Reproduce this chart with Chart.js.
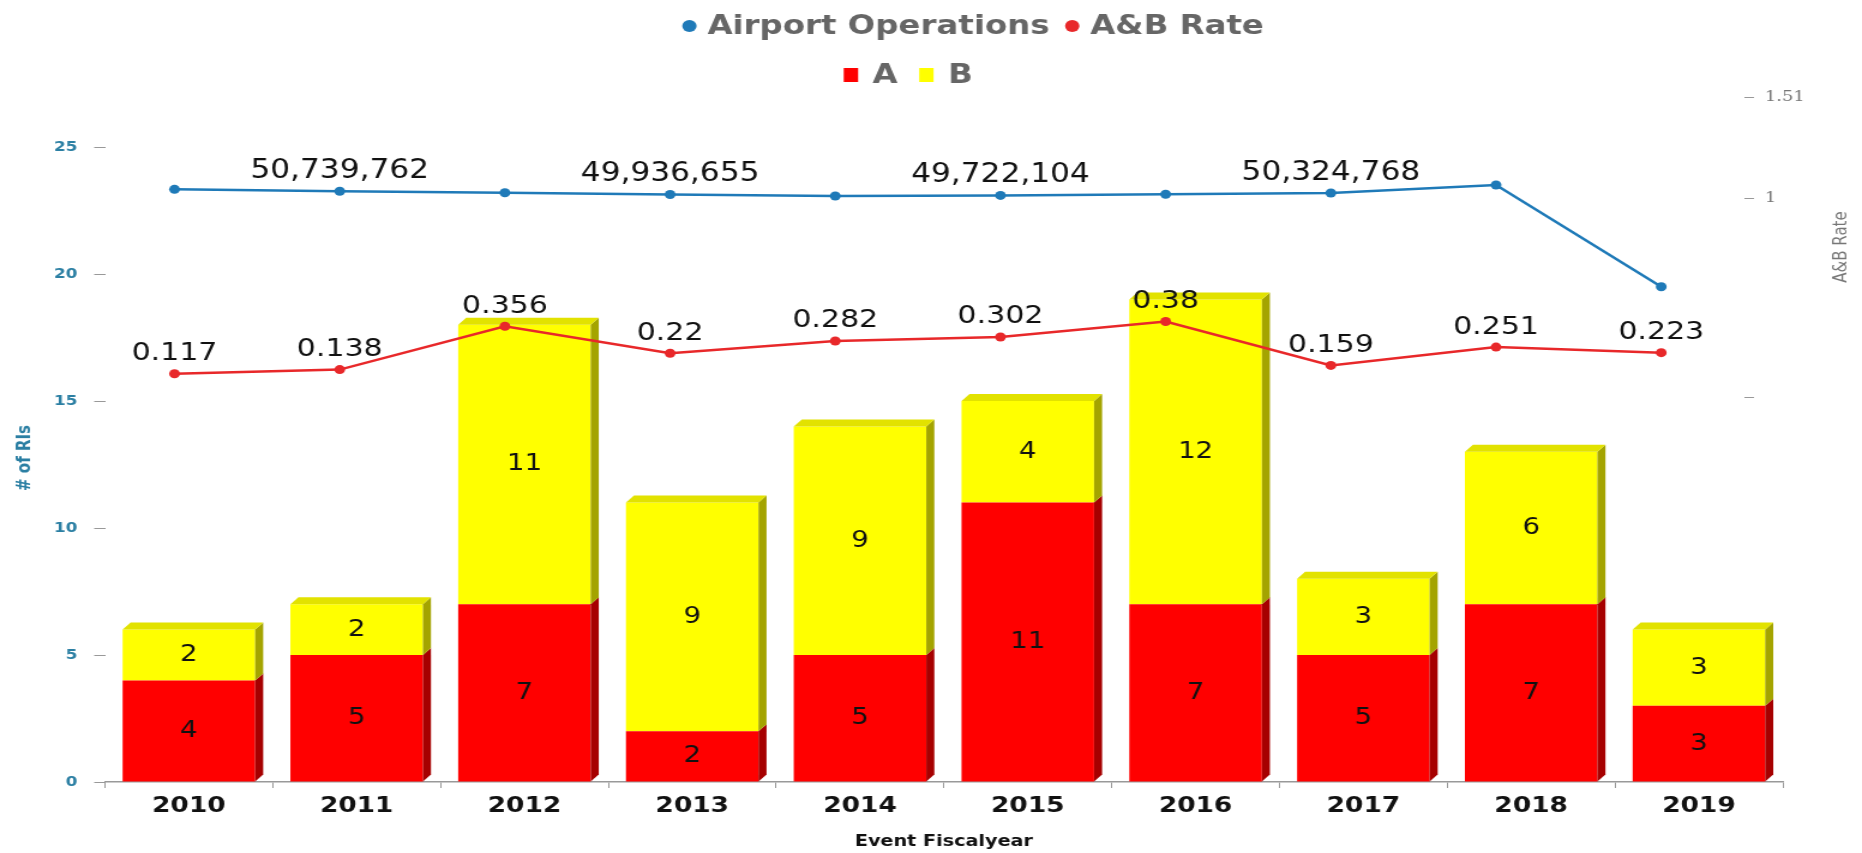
<!DOCTYPE html>
<html>
<head>
<meta charset="utf-8">
<title>RIs by Event Fiscal Year</title>
<script src="https://cdn.jsdelivr.net/npm/chart.js@4.4.1/dist/chart.umd.min.js"></script>
<style>
  html, body { margin: 0; padding: 0; background: #fff; overflow: hidden; }
  /* the source picture is a horizontally stretched screenshot, so stretch the canvas the same way */
  #wrap { width: 1552px; height: 853px; transform: scaleX(1.19974); transform-origin: 0 0; }
</style>
</head>
<body>
<div id="wrap"><canvas id="chart" width="1552" height="853"></canvas></div>
<script>
const years = ['2010', '2011', '2012', '2013', '2014', '2015', '2016', '2017', '2018', '2019'];
const countA = [4, 5, 7, 2, 5, 11, 7, 5, 7, 3];
const countB = [2, 2, 11, 9, 9, 4, 12, 3, 6, 3];
const abRate = [0.117, 0.138, 0.356, 0.22, 0.282, 0.302, 0.38, 0.159, 0.251, 0.223];
const airportOps = [51230000, 50739762, 50390000, 49936655, 49580000, 49722104, 50000000, 50324768, 52290000, 27200000];
const labeledOps = [1, 3, 5, 7];   // only these points carry a value label
const countTicks = [0, 5, 10, 15, 20, 25];
const rateTicks = [0, 1, 1.51];

const BLUE = '#1f7ab8';
const RED = '#e8282a';
const BAR_RED = '#ff0000';
const BAR_YELLOW = '#ffff00';
const TEAL = '#2b7fa3';
const FONT = '"DejaVu Sans", Verdana, sans-serif';

// depth of the fake 3D faces on the bars
const dx = 6.7, dy = 7;

/**
 * Draws 3D faces, value labels, the two-row legend, the right axis and the axis titles
 */
const extras = {
    id: 'extras',
    afterDatasetDraw(chart, args) {
        // A is drawn after B, so both bar sets are on the canvas now
        if (args.index !== 2) return;
        const ctx = chart.ctx;
        const barsA = chart.getDatasetMeta(2).data;
        const barsB = chart.getDatasetMeta(3).data;
        ctx.save();
        [[barsA, '#a60000'], [barsB, '#a4a400']].forEach(([bars, side]) => {
            bars.forEach(bar => {
                const p = bar.getProps(['x', 'y', 'base', 'width'], true);
                if (p.base === p.y) return;
                const r = p.x + p.width / 2;
                ctx.fillStyle = side;
                ctx.beginPath();
                ctx.moveTo(r, p.y);
                ctx.lineTo(r + dx, p.y - dy);
                ctx.lineTo(r + dx, p.base - dy);
                ctx.lineTo(r, p.base);
                ctx.closePath();
                ctx.fill();
            });
        });
        years.forEach((_, i) => {
            const bar = countB[i] > 0 ? barsB[i] : barsA[i];
            const p = bar.getProps(['x', 'y', 'width'], true);
            const l = p.x - p.width / 2, r = p.x + p.width / 2;
            ctx.fillStyle = countB[i] > 0 ? '#e2e200' : '#d00000';
            ctx.beginPath();
            ctx.moveTo(l, p.y);
            ctx.lineTo(l + dx, p.y - dy);
            ctx.lineTo(r + dx, p.y - dy);
            ctx.lineTo(r, p.y);
            ctx.closePath();
            ctx.fill();
        });
        ctx.restore();
    },
    afterDatasetsDraw(chart) {
        const ctx = chart.ctx;
        ctx.save();
        ctx.textAlign = 'center';
        ctx.textBaseline = 'middle';
        ctx.fillStyle = '#111';

        // bar segment labels
        ctx.font = `23px ${FONT}`;
        [[2, countA], [3, countB]].forEach(([idx, values]) => {
            chart.getDatasetMeta(idx).data.forEach((bar, i) => {
                if (!values[i]) return;
                const p = bar.getProps(['x', 'y', 'base'], true);
                ctx.fillText(String(values[i]), p.x, (p.y + p.base) / 2);
            });
        });

        // line point labels
        ctx.font = `26px ${FONT}`;
        chart.getDatasetMeta(0).data.forEach((pt, i) => {
            if (!labeledOps.includes(i)) return;
            ctx.fillText(airportOps[i].toLocaleString('en-US'), pt.x, pt.y - 20);
        });
        ctx.font = `25px ${FONT}`;
        chart.getDatasetMeta(1).data.forEach((pt, i) => {
            ctx.fillText(String(abRate[i]), pt.x, pt.y - 20);
        });
        ctx.restore();
    },
    afterDraw(chart) {
        const ctx = chart.ctx;
        const ds = chart.data.datasets;
        ctx.save();

        // legend, lines on the first row and bars on the second
        const rows = [
            { y: 26, cx: 811, items: [0, 1], markGap: 9, itemGap: 13 },
            { y: 75, cx: 757, items: [2, 3], markGap: 12, itemGap: 18 }
        ];
        ctx.font = `bold 27px ${FONT}`;
        ctx.textBaseline = 'middle';
        ctx.textAlign = 'left';
        rows.forEach(row => {
            const mark = 12;
            const widths = row.items.map(i => ctx.measureText(ds[i].label).width);
            const total = widths.reduce((s, w) => s + mark + row.markGap + w, 0) + row.itemGap * (row.items.length - 1);
            let x = row.cx - total / 2;
            row.items.forEach((i, k) => {
                const d = ds[i];
                ctx.fillStyle = d.type === 'line' ? d.borderColor : d.backgroundColor;
                if (d.type === 'line') {
                    ctx.beginPath();
                    ctx.arc(x + mark / 2, row.y, 6, 0, Math.PI * 2);
                    ctx.fill();
                } else {
                    ctx.fillRect(x, row.y - 7, mark, 14);
                }
                x += mark + row.markGap;
                ctx.fillStyle = '#666';
                ctx.fillText(d.label, x, row.y + 1);
                x += widths[k] + row.itemGap;
            });
        });

        // right axis: short marks set in from the plot edge, labels left aligned after them
        const y1 = chart.scales.y1;
        const right = chart.chartArea.right;
        ctx.strokeStyle = '#999';
        ctx.lineWidth = 1;
        ctx.fillStyle = '#777';
        ctx.font = '15px "DejaVu Serif", serif';
        rateTicks.forEach(v => {
            const y = Math.round(y1.getPixelForValue(v)) + 0.5;
            ctx.beginPath();
            ctx.moveTo(right - 32, y);
            ctx.lineTo(right - 24, y);
            ctx.stroke();
            if (v !== 0) ctx.fillText(String(v), right - 15, y);
        });

        // rotated axis titles, both read bottom to top
        ctx.textAlign = 'center';
        ctx.save();
        ctx.translate(21.5, 458);
        ctx.rotate(-Math.PI / 2);
        ctx.font = `bold 15px ${FONT}`;
        ctx.fillStyle = TEAL;
        ctx.fillText('# of RIs', 0, 0);
        ctx.restore();

        ctx.save();
        ctx.translate(1535, 247);
        ctx.rotate(-Math.PI / 2);
        ctx.font = `15px ${FONT}`;
        ctx.fillStyle = '#777';
        ctx.fillText('A&B Rate', 0, 0);
        ctx.restore();

        ctx.restore();
    }
};

const ctx = document.getElementById('chart').getContext('2d');

new Chart(ctx, {
    type: 'bar',
    data: {
        labels: years,
        datasets: [
            {
                type: 'line',
                label: 'Airport Operations',
                data: airportOps.map((v, i) => ({ x: i, y: v })),
                xAxisID: 'x2',
                yAxisID: 'y3',
                borderColor: BLUE,
                backgroundColor: BLUE,
                borderWidth: 2.5,
                pointRadius: 4.5,
                pointBorderWidth: 0,
                tension: 0
            },
            {
                type: 'line',
                label: 'A&B Rate',
                data: abRate.map((v, i) => ({ x: i, y: v })),
                xAxisID: 'x2',
                yAxisID: 'y1',
                borderColor: RED,
                backgroundColor: RED,
                borderWidth: 2.5,
                pointRadius: 4.5,
                pointBorderWidth: 0,
                tension: 0
            },
            {
                label: 'A',
                data: countA,
                xAxisID: 'x',
                yAxisID: 'y',
                stack: 'ab',
                grouped: false,
                backgroundColor: BAR_RED,
                barPercentage: 0.79,
                categoryPercentage: 1
            },
            {
                label: 'B',
                data: countB,
                xAxisID: 'x',
                yAxisID: 'y',
                stack: 'ab',
                grouped: false,
                backgroundColor: BAR_YELLOW,
                barPercentage: 0.79,
                categoryPercentage: 1
            }
        ]
    },
    options: {
        responsive: false,
        animation: false,
        devicePixelRatio: 1,
        layout: { padding: { top: 97, left: 0, right: 0, bottom: 0 } },
        plugins: {
            legend: { display: false },
            tooltip: { enabled: false }
        },
        scales: {
            x: {
                type: 'category',
                stacked: true,
                offset: true,
                grid: { display: true, offset: true, drawOnChartArea: false, drawTicks: true, tickLength: 6, color: '#999' },
                border: { display: true, color: '#999', width: 1.5 },
                ticks: { color: '#111', font: { family: FONT, size: 22, weight: 'bold' }, padding: 5.5, maxRotation: 0, autoSkip: false },
                title: { display: true, text: 'Event Fiscalyear', color: '#111', font: { family: FONT, size: 16, weight: 'bold' }, padding: { top: 0, bottom: 2 } },
                afterFit: s => { s.height = 71; }
            },
            x2: {
                type: 'linear',
                display: false,
                offset: false,
                bounds: 'data',
                grid: { offset: false },
                min: -0.421,
                max: 9.736
            },
            y: {
                position: 'left',
                stacked: true,
                min: 0,
                max: 26.97,
                afterBuildTicks: s => { s.ticks = countTicks.map(v => ({ value: v })); },
                grid: { display: true, drawOnChartArea: false, drawTicks: true, tickLength: 9, color: '#999' },
                border: { display: false },
                ticks: { color: TEAL, font: { family: FONT, size: 14, weight: 'bold' }, padding: 14 },
                afterFit: s => { s.width = 87.5; }
            },
            y1: {
                position: 'right',
                min: -1.938,
                max: 1.51,
                grid: { display: false },
                border: { display: false },
                ticks: { display: false },
                afterFit: s => { s.width = 66; }
            },
            y3: {
                display: false,
                min: -94967000,
                max: 74000000
            }
        }
    },
    plugins: [extras]
});
</script>
</body>
</html>
